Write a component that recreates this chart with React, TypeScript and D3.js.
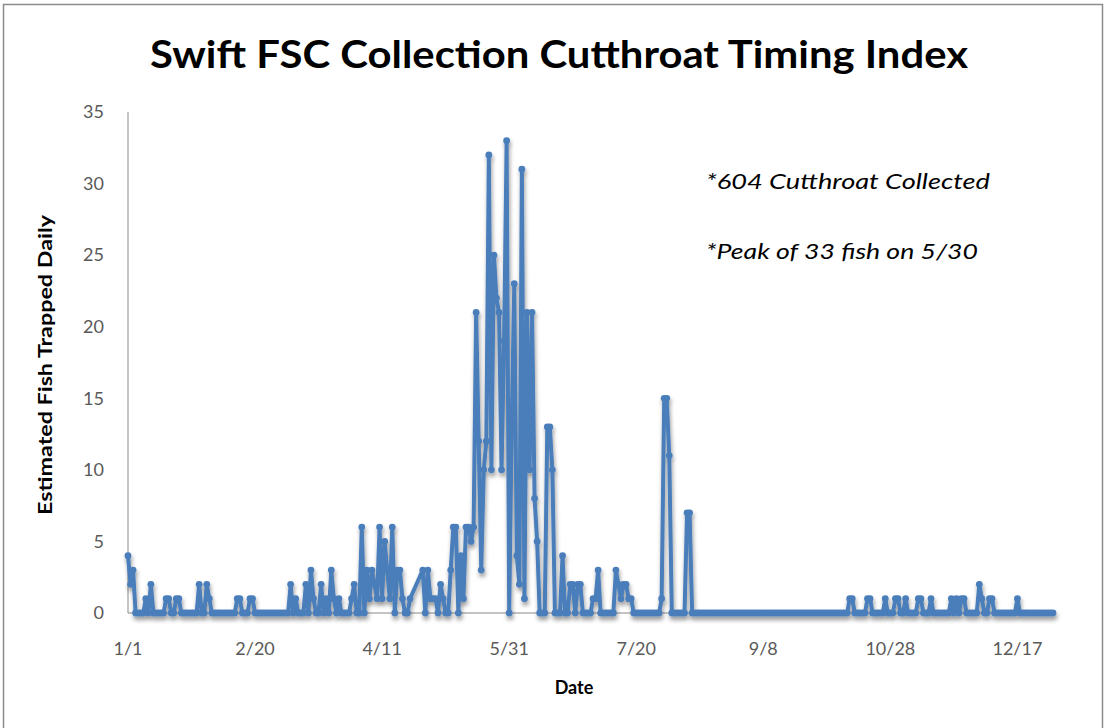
import React from 'react';
import * as d3 from 'd3';

// daily counts, one array per month (null = no sample that day)
const jan = [4, 2, 3, 0, 0, 0, 0, 1, 0, 2, 0, 0, 0, 0, 0, 1, 1, 0, 0, 1, 1, 0, 0, 0, 0, 0, 0, 0, 2, 0, 0];
const feb = [2, 1, 0, 0, 0, 0, 0, 0, 0, 0, 0, 0, 1, 1, 0, 0, 0, 1, 1, 0, 0, 0, 0, 0, 0, 0, 0, 0];
const mar = [0, 0, 0, 0, 0, 2, 0, 1, 0, 0, 0, 2, 0, 3, 1, 0, 0, 2, 0, 1, 0, 3, 1, 0, 1, 0, 0, 0, 0, 1, 2];
const apr = [0, 0, 6, 0, 3, 1, 3, 2, 1, 6, 1, 5, 3, 1, 6, 0, 3, 3, 1, 0, 0, 1, null, null, null, null, 3, 0, 3, 1];
const may = [1, 1, 0, 2, 1, 0, 0, 3, 6, 6, 0, 4, 1, 6, 6, 5, 6, 21, 12, 3, 10, 12, 32, 10, 25, 22, 21, 10, 19, 33, 0];
const jun = [13, 23, 4, 2, 31, 1, 21, 10, 21, 8, 5, 0, 0, 0, 13, 13, 10, 0, 0, 0, 4, 0, 0, 2, 2, 0, 2, 2, 0, 0];
const jul = [0, 0, 1, 1, 3, 0, 0, 0, 0, 0, 0, 3, 2, 1, 2, 2, 1, 1, 0, 0, 0, 0, 0, 0, 0, 0, 0, 0, 0, 1, 15];
const aug = [15, 11, 0, 0, 0, 0, 0, 0, 7, 7, 0, 0, 0, 0, 0, 0, 0, 0, 0, 0, 0, 0, 0, 0, 0, 0, 0, 0, 0, 0, 0];
const sep = [0, 0, 0, 0, 0, 0, 0, 0, 0, 0, 0, 0, 0, 0, 0, 0, 0, 0, 0, 0, 0, 0, 0, 0, 0, 0, 0, 0, 0, 0];
const oct = [0, 0, 0, 0, 0, 0, 0, 0, 0, 0, 0, 1, 1, 0, 0, 0, 0, 0, 1, 1, 0, 0, 0, 0, 0, 1, 0, 0, 0, 1, 1];
const nov = [0, 0, 1, 0, 0, 0, 0, 1, 1, 0, 0, 0, 1, 0, 0, 0, 0, 0, 0, 0, 1, 0, 1, 0, 1, 1, 0, 0, 0, 0];
const dec = [0, 2, 1, 0, 0, 1, 1, 0, 0, 0, 0, 0, 0, 0, 0, 0, 1, 0, 0, 0, 0, 0, 0, 0, 0, 0, 0, 0, 0, 0, 0];

const months = [jan, feb, mar, apr, may, jun, jul, aug, sep, oct, nov, dec];
const yTicks = [0, 5, 10, 15, 20, 25, 30, 35];
const notes = ['*604 Cutthroat Collected', '*Peak of 33 fish on 5/30'];

const width = 1109;
const height = 728;
const margin = { top: 112, right: 56, bottom: 115, left: 128 };

const data = months.flatMap((vals, m) =>
  vals.map((v, i) => ({ date: new Date(Date.UTC(2013, m, i + 1)), value: v }))
).filter(d => d.value !== null) as { date: Date; value: number }[];

const start = new Date(Date.UTC(2013, 0, 1));
const end = new Date(Date.UTC(2013, 11, 31));
const xTicks = d3.range(0, 8).map(i => d3.utcDay.offset(start, i * 50));
const fmt = d3.utcFormat('%-m/%-d');

const App = () => {
  const x = d3.scaleUtc().domain([start, end]).range([margin.left, width - margin.right]);
  const y = d3.scaleLinear().domain([0, 35]).range([height - margin.bottom, margin.top]);

  const line = d3.line<{ date: Date; value: number }>()
    .x(d => x(d.date))
    .y(d => y(d.value));

  const font = 'Lato, "Open Sans", sans-serif';
  const grey = '#595959';

  return (
    <svg width={width} height={height} style={{ position: 'absolute', left: 0, top: 0, background: '#fff' }}>
      <defs>
        <filter id="shadow" x="-5%" y="-5%" width="110%" height="115%">
          <feDropShadow dx="1" dy="3.5" stdDeviation="2" floodColor="#000" floodOpacity="0.4" />
        </filter>
      </defs>
      <rect x={3.5} y={4.5} width={1099} height={740} fill="#fff" stroke="#8c8c8c" strokeWidth={1.5} />

      <text x={559} y={68} textAnchor="middle" fontFamily={font} fontWeight="bold" fontSize={38}
        textLength={818} lengthAdjust="spacingAndGlyphs" fill="#000">
        Swift FSC Collection Cutthroat Timing Index
      </text>

      {/* axes */}
      <line x1={x(start)} x2={x(start)} y1={y(35)} y2={y(0)} stroke="#898989" strokeWidth={1} />
      <line x1={x(start)} x2={x(end) + 3} y1={y(0)} y2={y(0)} stroke="#898989" strokeWidth={1} />

      {yTicks.map(t => (
        <text key={t} x={104} y={y(t)} dy="0.35em" textAnchor="end" fontFamily={font} fontSize={18} fill={grey}>
          {t}
        </text>
      ))}
      {xTicks.map(t => (
        <text key={+t} x={x(t)} y={655} textAnchor="middle" fontFamily={font} fontSize={18} fill={grey}>
          {fmt(t)}
        </text>
      ))}

      <text x={574} y={694} textAnchor="middle" fontFamily={font} fontWeight="bold" fontSize={18} fill="#000">
        Date
      </text>
      <text transform="translate(52,365) rotate(-90)" textAnchor="middle" fontFamily={font} fontWeight="bold"
        fontSize={19} textLength={300} lengthAdjust="spacingAndGlyphs" fill="#000">
        Estimated Fish Trapped Daily
      </text>

      {/* series */}
      <g filter="url(#shadow)">
        <path d={line(data) || ''} fill="none" stroke="#4A7EBB" strokeWidth={4} strokeLinejoin="round" />
        {data.map((d, i) => (
          <circle key={i} cx={x(d.date)} cy={y(d.value)} r={3.4} fill="#4A7EBB" />
        ))}
      </g>

      {notes.map((n, i) => (
        <text key={n} x={706} y={189 + i * 70} fontFamily={font} fontStyle="italic" fontSize={22}
          textLength={i === 0 ? 284 : 272} lengthAdjust="spacingAndGlyphs" fill="#000">
          {n}
        </text>
      ))}
    </svg>
  );
};

export default App;
